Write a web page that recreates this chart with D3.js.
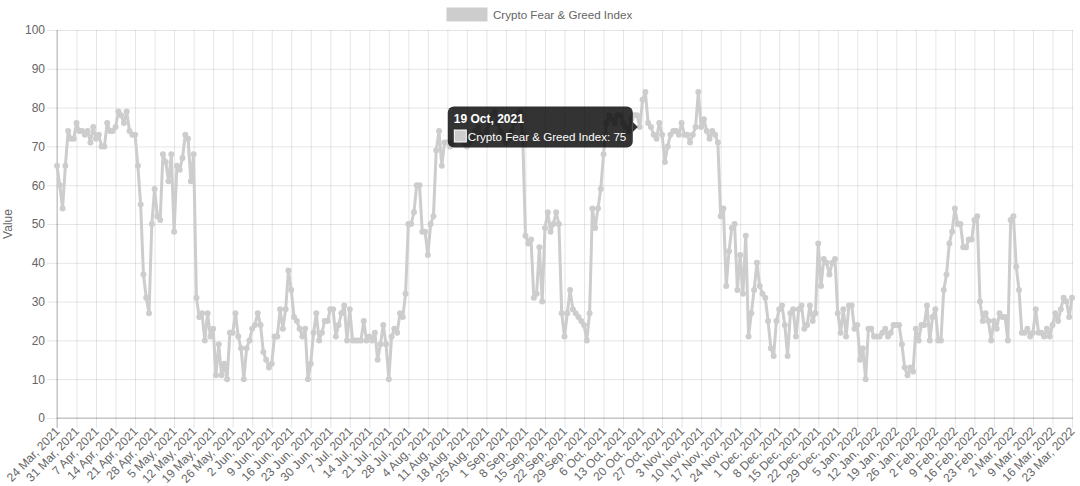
<!DOCTYPE html>
<html><head><meta charset="utf-8">
<script src="https://cdn.jsdelivr.net/npm/d3@7"></script>
<style>
body{margin:0;background:#fff}
svg{display:block}
text{font-family:"Liberation Sans",Arial,Helvetica,sans-serif}
</style>
</head><body>
<svg id="chart" width="1080" height="486"></svg>
<script>
// ---------- data ----------
const seriesName = "Crypto Fear & Greed Index";
const startDay = [2021, 2, 24];   // 24 Mar 2021, one value per day
const values = [
 65,60,54,65,74,72,72,76,74,74, 73,74,71,75,72,73,70,70,76,74,
 74,75,79,78,76,79,74,73,73,65, 55,37,31,27,50,59,52,51,68,66,
 61,68,48,65,64,67,73,72,61,68, 31,26,27,20,27,21,23,11,19,11,
 14,10,22,22,27,21,18,10,18,20, 23,24,27,24,17,15,13,14,21,21,
 28,23,28,38,33,26,25,23,21,23, 10,14,22,27,20,22,25,25,28,28,
 21,24,27,29,20,28,20,20,20,20, 25,20,21,20,22,15,19,24,19,10,
 21,23,22,27,26,32,50,50,53,60, 60,48,48,42,50,52,69,74,65,71,
 71,70,71,73,74,72,71,70,71,72, 74,75,73,72,74,76,78,79,76,74,
 73,71,72,74,76,78,79,73,47,45, 46,31,32,44,30,49,53,48,50,53,
 50,27,21,27,33,28,27,26,25,24, 20,27,54,49,54,59,68,76,78,77,
 76,78,78,76,75,74,77,78,78,75, 82,84,76,75,73,72,76,73,66,70,
 73,74,74,73,76,73,73,71,73,75, 84,75,77,74,72,74,73,71,52,54,
 34,43,49,50,33,42,32,47,21,27, 33,40,34,32,31,25,18,16,25,28,
 29,24,16,27,28,21,28,29,23,24, 29,25,27,45,34,41,40,37,40,41,
 27,22,28,21,29,29,23,24,15,18, 10,23,23,21,21,21,22,23,21,22,
 24,24,24,19,13,11,13,12,23,20, 24,24,29,20,26,28,20,20,33,37,
 45,48,54,50,50,44,44,46,46,51, 52,30,25,27,25,20,25,23,27,26,
 26,20,51,52,39,33,22,22,23,21, 22,28,22,22,21,23,21,24,27,25,
 28,31,30,26,31
];
const yTicks = [0,10,20,30,40,50,60,70,80,90,100];
const labelEvery = 7;
const yTitle = "Value";
const tooltipIndex = 209; // 19 Oct, 2021

// ---------- setup ----------
const svg = d3.select("#chart");
const pL = 57, pR = 1072, pT = 30, pB = 418;
const lineColor = "#cdcdcd";
const textColor = "#666";
const gridColor = "rgba(0,0,0,0.1)";
const fontFam = '"Liberation Sans",Arial,sans-serif';

const start = new Date(startDay[0], startDay[1], startDay[2]);
const dates = values.map((v, i) => d3.timeDay.offset(start, i));
const fmt = d3.timeFormat("%-d %b, %Y");
const labels = dates.map(fmt);

const x = d3.scalePoint().domain(labels).range([pL, pR]);
const y = d3.scaleLinear().domain([0, 100]).range([pB, pT]);
const shown = labels.filter((d, i) => i % labelEvery === 0);

// horizontal grid
svg.append("g")
  .attr("transform", `translate(${pL},0)`)
  .call(d3.axisLeft(y).tickValues(yTicks).tickSize(-(pR + 1 - pL)).tickFormat(""))
  .call(g => g.select(".domain").remove())
  .call(g => g.selectAll("line").attr("stroke", gridColor));
// vertical grid
svg.append("g")
  .attr("transform", `translate(0,${pB})`)
  .call(d3.axisBottom(x).tickValues(shown).tickSize(-(pB - pT)).tickFormat(""))
  .call(g => g.select(".domain").remove())
  .call(g => g.selectAll("line").attr("stroke", gridColor));

// y axis labels + tick marks
svg.append("g")
  .attr("transform", `translate(${pL},0)`)
  .call(d3.axisLeft(y).tickValues(yTicks).tickSize(10).tickPadding(2))
  .call(g => g.select(".domain").remove())
  .call(g => g.selectAll("line").attr("stroke", gridColor))
  .call(g => g.selectAll("text").attr("fill", textColor).attr("font-size", 12)
     .style("font-family", fontFam));

// x axis labels + tick marks
svg.append("g")
  .attr("transform", `translate(0,${pB})`)
  .call(d3.axisBottom(x).tickValues(shown).tickSize(10))
  .call(g => g.select(".domain").remove())
  .call(g => g.selectAll("line").attr("stroke", gridColor))
  .call(g => g.selectAll("text")
     .attr("fill", textColor).attr("font-size", 12)
     .style("font-family", fontFam)
     .attr("text-anchor", "end")
     .attr("y", 0).attr("dy", 0)
     .attr("transform", "translate(3,14) rotate(-46)"));

// axis lines
svg.append("line").attr("x1", pL).attr("x2", pR + 1).attr("y1", pB).attr("y2", pB)
  .attr("stroke", "rgba(0,0,0,0.25)");
svg.append("line").attr("x1", pL).attr("x2", pL).attr("y1", pT).attr("y2", pB + 10)
  .attr("stroke", "rgba(0,0,0,0.25)");

// y title
svg.append("text")
  .attr("transform", `translate(12,${(pT + pB) / 2}) rotate(-90)`)
  .attr("text-anchor", "middle")
  .attr("fill", textColor).attr("font-size", 12)
  .text(yTitle);

// legend
const legendG = svg.append("g");
legendG.append("rect").attr("x", 447).attr("y", 8).attr("width", 40).attr("height", 13)
  .attr("fill", lineColor).attr("stroke", lineColor);
legendG.append("text").attr("x", 493).attr("y", 19)
  .attr("fill", textColor).attr("font-size", 11.6).text(seriesName);

// line + points
const line = d3.line().x((d, i) => x(labels[i])).y(d => y(d));
svg.append("path").datum(values)
  .attr("d", line)
  .attr("fill", "none").attr("stroke", lineColor).attr("stroke-width", 3)
  .attr("stroke-linejoin", "round");
svg.append("g").selectAll("circle").data(values).join("circle")
  .attr("cx", (d, i) => x(labels[i])).attr("cy", d => y(d))
  .attr("r", 3).attr("fill", lineColor);

// tooltip
const px = x(labels[tooltipIndex]), py = y(values[tooltipIndex]);
const tipW = 185, tipH = 41;
const tipRight = px - 7, tipX = tipRight - tipW, tipY = py - tipH / 2;
const tip = svg.append("g");
tip.append("rect").attr("x", tipX).attr("y", tipY).attr("width", tipW).attr("height", tipH)
  .attr("rx", 6).attr("ry", 6).attr("fill", "rgba(0,0,0,0.8)");
tip.append("path")
  .attr("d", `M${tipRight},${py - 5} L${tipRight + 5},${py} L${tipRight},${py + 5} Z`)
  .attr("fill", "rgba(0,0,0,0.8)");
tip.append("text").attr("x", tipX + 6).attr("y", tipY + 16)
  .attr("fill", "#fff").attr("font-size", 12).attr("font-weight", "bold")
  .text(fmt(dates[tooltipIndex]));
tip.append("rect").attr("x", tipX + 6.5).attr("y", tipY + 23.5).attr("width", 12).attr("height", 12)
  .attr("fill", lineColor).attr("stroke", "#fff").attr("stroke-width", 1);
tip.append("text").attr("x", tipX + 20).attr("y", tipY + 34)
  .attr("fill", "#fff").attr("font-size", 11.6)
  .text(seriesName + ": " + values[tooltipIndex]);
</script>
</body></html>
